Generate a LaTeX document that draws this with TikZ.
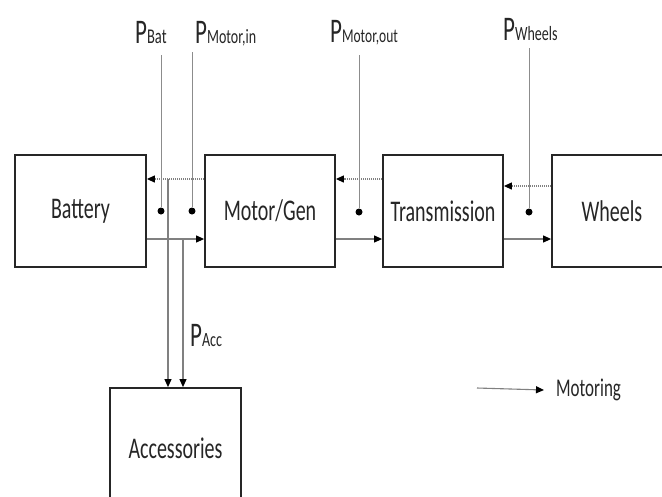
\documentclass[tikz,border=0pt]{standalone}
\usepackage{graphicx}
\usepackage{fontspec}
\setmainfont{Carlito}
\usetikzlibrary{arrows.meta}
\newcommand{\boxtxt}[1]{\scalebox{1}[1.5]{\fontsize{20}{20}\selectfont #1}}
\newcommand{\plab}[2][14]{\scalebox{1}[1.5]{\fontsize{23}{23}\selectfont P}\scalebox{1}[1.45]{\fontsize{#1}{#1}\selectfont #2}}
\tikzset{
  blk/.style={draw=black!85, line width=1.8pt, fill=white, minimum height=112pt, inner sep=0pt, text=black!85},
  flow/.style={draw=black!50, line width=1.1pt, -{Triangle[length=8pt,width=7pt,color=black]}},
  regen/.style={draw=black!50, line width=1.2pt, dash pattern=on 1pt off 1pt, -{Triangle[length=8pt,width=7pt,color=black]}},
  tap/.style={draw=black!45, line width=0.9pt},
  pdot/.style={circle, fill=black, inner sep=0pt, minimum size=7pt},
  lab/.style={anchor=base west, inner sep=0pt, text=black!85}
}
\begin{document}
\begin{tikzpicture}[x=1pt, y=-1pt]
\useasboundingbox (0,0) rectangle (662,496);
\clip (0,0) rectangle (662,496);
\fill[white] (0,0) rectangle (662,496);
% blocks
\node[blk, minimum width=131pt] (bat) at (80.5,211) {\boxtxt{Battery}};
\node[blk, minimum width=130pt] (mot) at (270,211) {\boxtxt{Motor/Gen}};
\node[blk, minimum width=120pt] (tra) at (443,211) {\boxtxt{Transmission}};
\node[blk, minimum width=120pt] (whl) at (612,211) {\boxtxt{Wheels}};
\node[blk, minimum width=131pt, minimum height=130pt] (acc) at (175.5,453) {};
\node[inner sep=0pt, text=black!85] (acctxt) at (175.5,448) {\boxtxt{Accessories}};
% regen (dotted) arrows
\draw[regen] ([yshift=32pt]mot.west) -- ([yshift=32pt]bat.east);
\draw[regen] ([yshift=32pt]tra.west) -- ([yshift=32pt]mot.east);
\draw[regen] ([yshift=25pt]whl.west) -- ([yshift=25pt]tra.east);
% motoring arrows
\draw[flow] ([yshift=-28pt]bat.east) -- ([yshift=-28pt]mot.west);
\draw[flow] ([yshift=-28pt]mot.east) -- ([yshift=-28pt]tra.west);
\draw[flow] ([yshift=-28pt]tra.east) -- ([yshift=-28pt]whl.west);
% accessory branches
\coordinate (a1) at (168,179);
\coordinate (a2) at (183,239);
\draw[flow] (a1) -- (acc.north -| a1);
\draw[flow] (a2) -- (acc.north -| a2);
% measuring points
\node[pdot] (dbat) at (161,211) {};
\node[pdot] (dmin) at (192,211) {};
\node[pdot] (dmout) at (359,212) {};
\node[pdot] (dwhl) at (529,212) {};
\coordinate (tbat) at (161,55);
\coordinate (tmin) at (192,52);
\coordinate (tmout) at (359,55);
\coordinate (twhl) at (529,48);
\draw[tap] (tbat) -- (dbat);
\draw[tap] (tmin) -- (dmin);
\draw[tap] (tmout) -- (dmout);
\draw[tap] (twhl) -- (dwhl);
% labels
\node[lab] (lbat) at (135,43) {\plab[14.5]{Bat}};
\node[lab] (lmin) at (195,43) {\plab{Motor,in}};
\node[lab] (lmout) at (330,42) {\plab[13.5]{Motor,out}};
\node[lab] (lwhl) at (503,40) {\plab{Wheels}};
\node[lab] (lacc) at (190,346) {\plab{Acc}};
% legend
\coordinate (leg) at (477,388);
\node[anchor=west, inner sep=0pt, text=black!85] (legtxt) at (556,390) {\scalebox{1}[1.5]{\fontsize{17}{17}\selectfont Motoring}};
\draw[flow] (leg) -- ([xshift=-12pt]legtxt.west);
\end{tikzpicture}
\end{document}
